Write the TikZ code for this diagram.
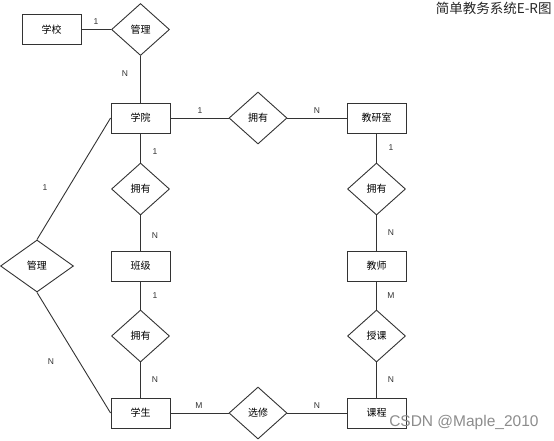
\documentclass[tikz,border=0pt]{standalone}
\usepackage{fontspec}
\setmainfont{Liberation Sans}
\newfontfamily\cjk{Noto Sans CJK SC}
\usetikzlibrary{shapes.geometric}
\begin{document}
\begin{tikzpicture}[x=1pt,y=-1pt,
  line width=0.9pt,
  ent/.style={draw=black!80,rectangle,minimum width=59pt,minimum height=30pt,inner sep=0pt,font=\cjk\fontsize{10}{12}\selectfont},
  rel/.style={draw=black!80,diamond,minimum width=58pt,minimum height=52pt,inner sep=0pt,font=\cjk\fontsize{10}{12}\selectfont},
  card/.style={font=\fontsize{8.5}{9}\selectfont,text=black!80,inner sep=0pt},
  conn/.style={draw=black!80}]
\useasboundingbox (0,0) rectangle (554,440);
% entities
\node[ent] (school) at (51.5,29.5) {学校};
\node[ent] (college) at (140.5,118) {学院};
\node[ent] (office) at (376.5,118) {教研室};
\node[ent] (class) at (140.5,266) {班级};
\node[ent] (teacher) at (376.5,266) {教师};
\node[ent] (student) at (140.5,413) {学生};
\node[ent] (course) at (376.5,413) {课程};
% relations
\node[rel] (mtop) at (140.5,29.5) {管理};
\node[rel] (hasR) at (258,118) {拥有};
\node[rel] (hasC) at (140.5,189) {拥有};
\node[rel] (hasO) at (376.5,189) {拥有};
\node[rel] (hasS) at (140.5,336) {拥有};
\node[rel] (teach) at (376.5,336) {授课};
\node[rel] (select) at (258,413) {选修};
\node[rel,minimum width=73pt] (mleft) at (37,266) {管理};
% connectors
\draw[conn] (school) -- (mtop);
\draw[conn] (mtop) -- (college);
\draw[conn] (college) -- (hasR);
\draw[conn] (hasR) -- (office);
\draw[conn] (office) -- (hasO);
\draw[conn] (hasO) -- (teacher);
\draw[conn] (teacher) -- (teach);
\draw[conn] (teach) -- (course);
\draw[conn] (college) -- (hasC);
\draw[conn] (hasC) -- (class);
\draw[conn] (class) -- (hasS);
\draw[conn] (hasS) -- (student);
\draw[conn] (student) -- (select);
\draw[conn] (select) -- (course);
\draw[conn] (mleft.north) -- (college.west);
\draw[conn] (mleft.south) -- (student.west);
% cardinalities
\node[card] at (96,22) {1};
\node[card] at (125,74) {N};
\node[card] at (200,111) {1};
\node[card] at (317,111) {N};
\node[card] at (155,152) {1};
\node[card] at (155,236) {N};
\node[card] at (391,148) {1};
\node[card] at (391,233) {N};
\node[card] at (155,296) {1};
\node[card] at (155,380) {N};
\node[card] at (391,296) {M};
\node[card] at (391,380) {N};
\node[card] at (199,406) {M};
\node[card] at (317,406) {N};
\node[card] at (45,188) {1};
\node[card] at (51,362) {N};
% title
\node[font=\cjk\fontsize{13.5}{15}\selectfont,text=black!85,anchor=east,inner sep=0pt] (title) at (552,8) {简单教务系统E-R图};
% watermark
\node[font=\fontsize{15.5}{17}\selectfont,text=black!45,anchor=east,inner sep=0pt] (wm) at (539,422) {CSDN @Maple\_2010};
\end{tikzpicture}
\end{document}
